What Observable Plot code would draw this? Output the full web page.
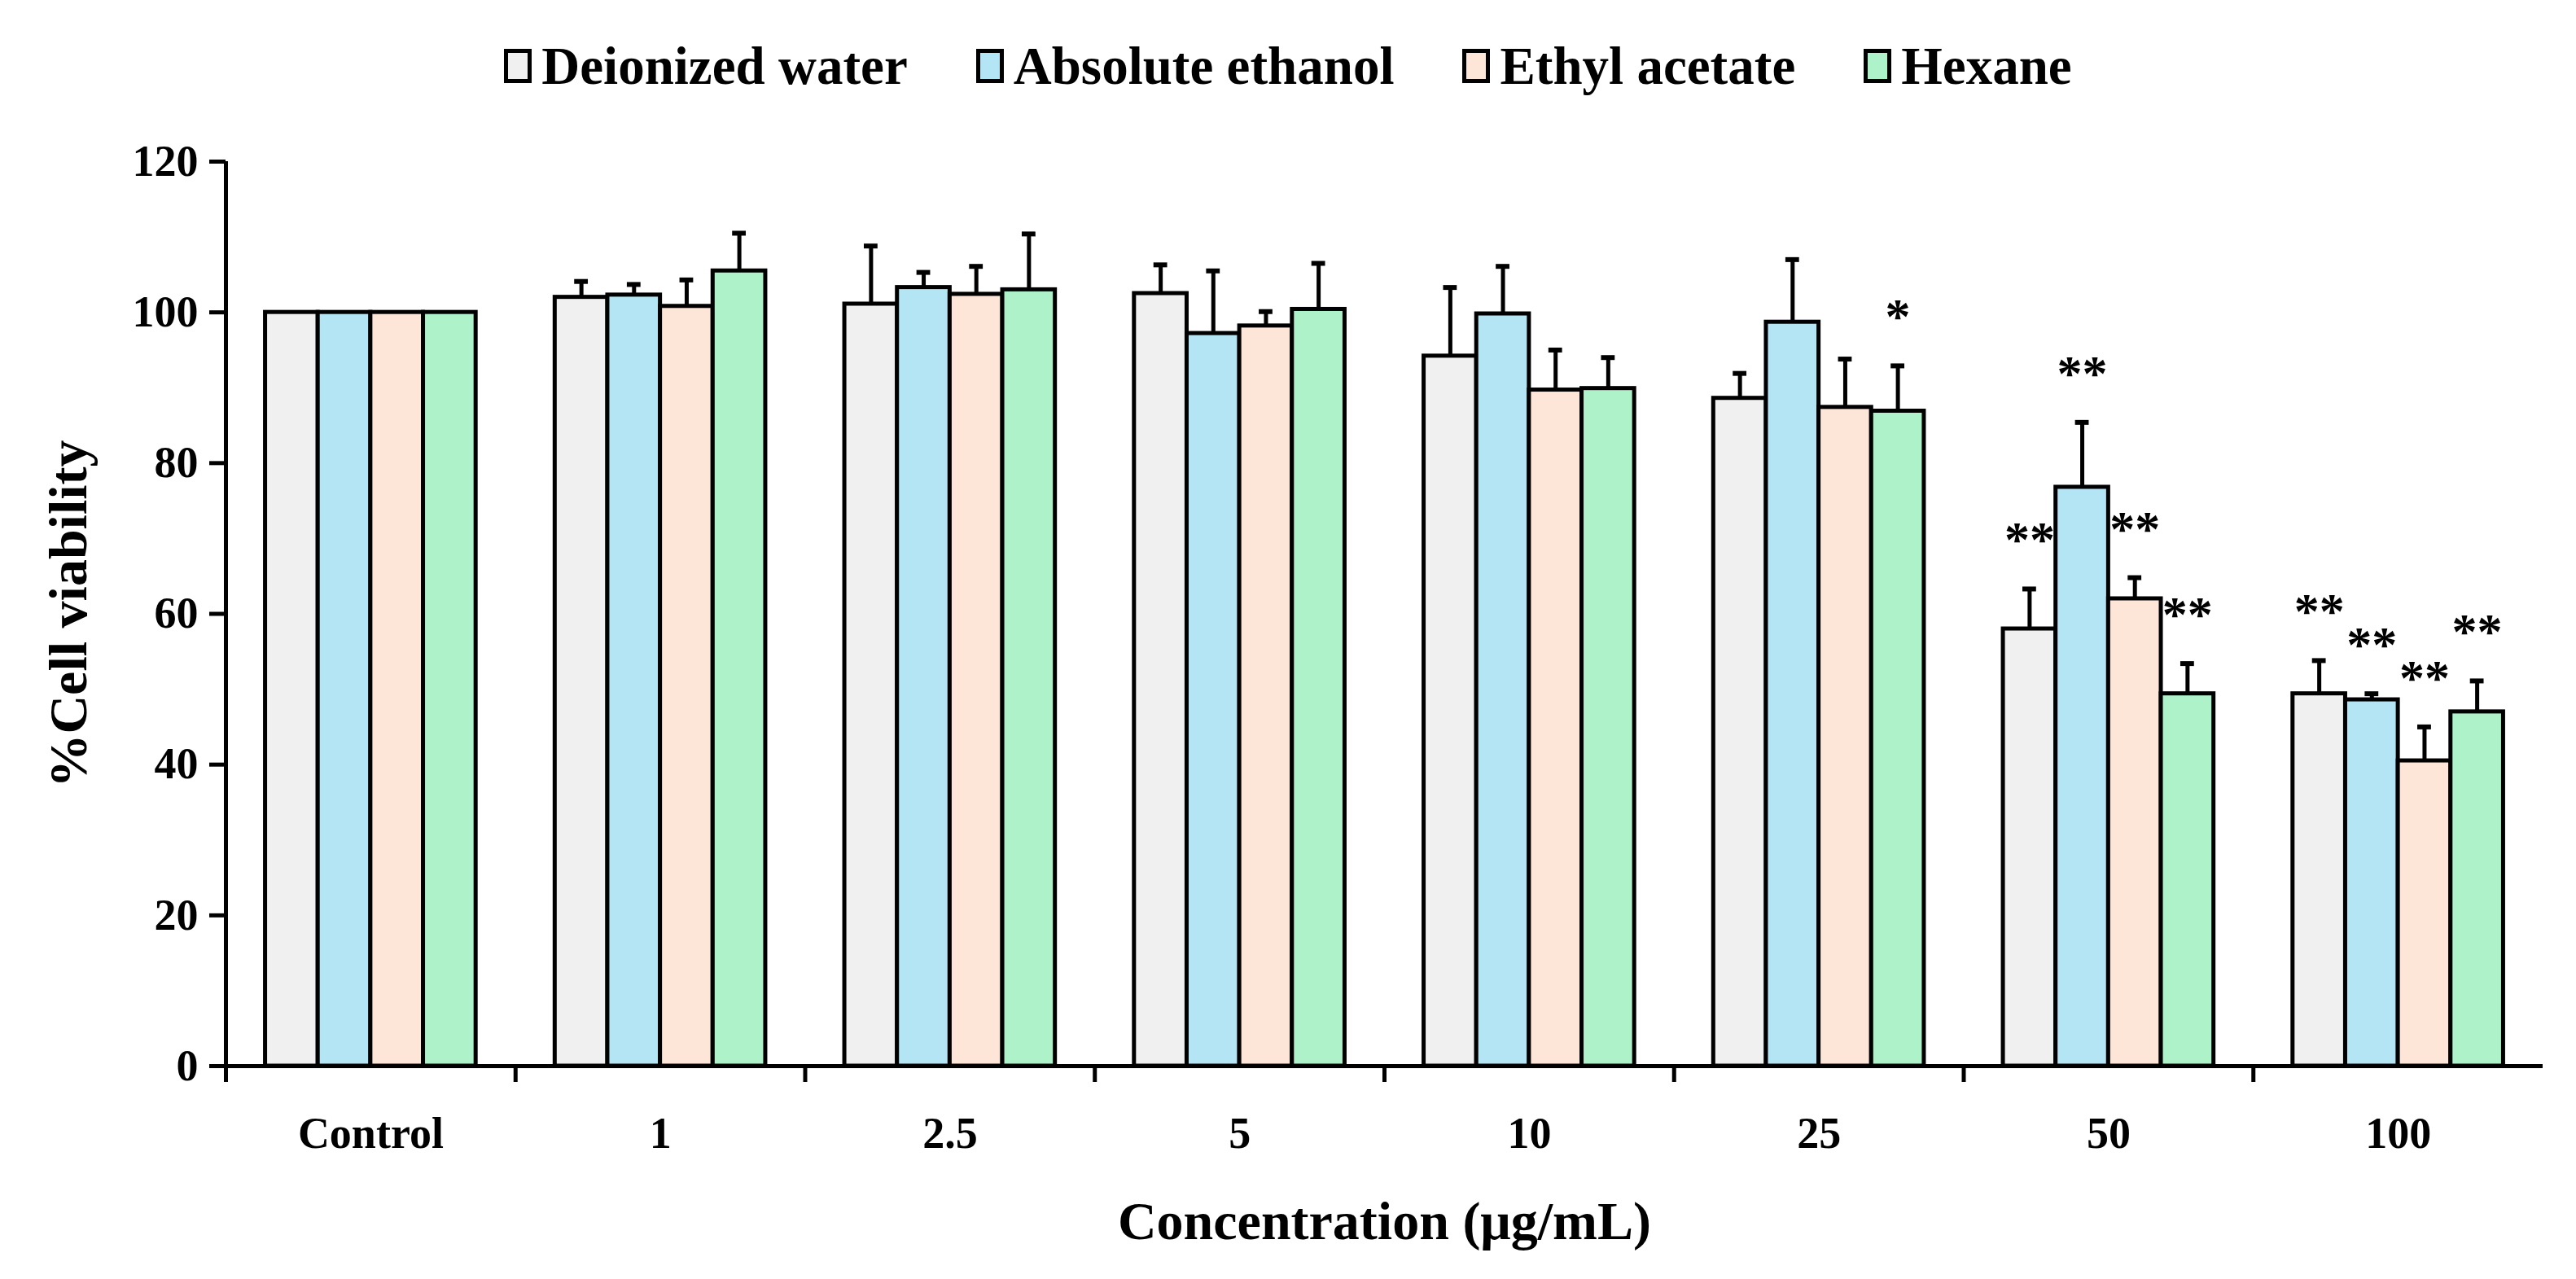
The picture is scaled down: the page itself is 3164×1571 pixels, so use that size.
<!DOCTYPE html>
<html>
<head>
<meta charset="utf-8">
<script src="https://cdn.jsdelivr.net/npm/d3@7"></script>
<script src="https://cdn.jsdelivr.net/npm/@observablehq/plot@0.6"></script>
<style>
  html, body { margin: 0; padding: 0; background: #fff; }
  body { width: 3164px; height: 1571px; overflow: hidden; font-family: "Liberation Serif", serif; font-weight: bold; color: #000; }
  #legend { height: 102px; padding-top: 30px; display: flex; justify-content: center; align-items: center; gap: 84px; font-size: 65px; line-height: 1; }
  .item { display: flex; align-items: center; gap: 12px; }
  .sw { width: 34px; height: 42px; border: 5px solid #000; box-sizing: border-box; }
  #chart svg { display: block; }
</style>
</head>
<body>
<div id="legend"></div>
<div id="chart"></div>
<script>
// ---- data ----
const concentrations = ["Control", "1", "2.5", "5", "10", "25", "50", "100"];
const solvents = ["Deionized water", "Absolute ethanol", "Ethyl acetate", "Hexane"];
const solventColors = ["#f0f0f0", "#b3e5f4", "#fde5d8", "#adf2c8"];

const deionizedWater   = [100, 102.0, 101.1, 102.5, 94.2, 88.6, 58.0, 49.4];
const absoluteEthanol  = [100, 102.3, 103.3, 97.2, 99.8, 98.7, 76.8, 48.6];
const ethylAcetate     = [100, 100.8, 102.4, 98.2, 89.7, 87.4, 62.0, 40.5];
const hexane           = [100, 105.5, 103.0, 100.4, 89.9, 86.9, 49.4, 47.0];

const deionizedWaterErr  = [0, 2.1, 7.7, 3.8, 9.1, 3.3, 5.3, 4.4];
const absoluteEthanolErr = [0, 1.4, 2.0, 8.3, 6.3, 8.3, 8.6, 0.8];
const ethylAcetateErr    = [0, 3.5, 3.7, 1.9, 5.3, 6.4, 2.8, 4.5];
const hexaneErr          = [0, 5.0, 7.4, 6.1, 4.1, 6.0, 4.0, 4.1];

const deionizedWaterSig  = ["", "", "", "", "", "", "**", "**"];
const absoluteEthanolSig = ["", "", "", "", "", "", "**", "**"];
const ethylAcetateSig    = ["", "", "", "", "", "", "**", "**"];
const hexaneSig          = ["", "", "", "", "", "*", "**", "**"];

const yTicks = [0, 20, 40, 60, 80, 100, 120];

// ---- table ----
const values = [deionizedWater, absoluteEthanol, ethylAcetate, hexane];
const errors = [deionizedWaterErr, absoluteEthanolErr, ethylAcetateErr, hexaneErr];
const sigs = [deionizedWaterSig, absoluteEthanolSig, ethylAcetateSig, hexaneSig];
const rows = [];
concentrations.forEach((c, i) => solvents.forEach((s, j) => {
  rows.push({conc: c, solvent: s, i, j, value: values[j][i], err: errors[j][i], sig: sigs[j][i]});
}));

// ---- legend ----
const legend = document.getElementById("legend");
solvents.forEach((s, j) => {
  const it = document.createElement("div");
  it.className = "item";
  const sw = document.createElement("div");
  sw.className = "sw";
  sw.style.background = solventColors[j];
  const t = document.createElement("span");
  t.textContent = s;
  it.append(sw, t);
  legend.append(it);
});

// ---- group geometry (fraction of each concentration band used by bars) ----
const groupFrac = 0.727;
const bw = groupFrac / solvents.length;
const bx1 = d => d.i + (1 - groupFrac) / 2 + d.j * bw;
const bx2 = d => bx1(d) + bw;
const bxc = d => bx1(d) + bw / 2;
const cap = bw * 0.13;
const withErr = rows.filter(d => d.err > 0);
const withSig = rows.filter(d => d.sig);

const chart = Plot.plot({
  width: 3164,
  height: 1441,
  marginLeft: 277,
  marginRight: 41,
  marginTop: 66,
  marginBottom: 264,
  style: {fontFamily: "'Liberation Serif', serif", fontWeight: "bold", fontSize: "54px", color: "#000", background: "#fff", overflow: "visible"},
  x: {domain: [0, concentrations.length]},
  y: {domain: [0, 120]},
  color: {domain: solvents, range: solventColors},
  marks: [
    Plot.rectY(rows, {x1: bx1, x2: bx2, y1: 0, y2: "value", fill: "solvent", stroke: "#000", strokeWidth: 5}),
    Plot.ruleX(withErr, {x: bxc, y1: "value", y2: d => d.value + d.err, stroke: "#000", strokeWidth: 5}),
    Plot.ruleY(withErr, {y: d => d.value + d.err, x1: d => bxc(d) - cap, x2: d => bxc(d) + cap, stroke: "#000", strokeWidth: 6}),
    Plot.text(withSig, {x: bxc, y: d => d.value + d.err, text: "sig", lineAnchor: "bottom", dy: -40, fontSize: 62, fontWeight: "bold"}),
    Plot.ruleX([0], {y1: 0, y2: 120, stroke: "#000", strokeWidth: 5}),
    Plot.ruleY([0], {stroke: "#000", strokeWidth: 5}),
    Plot.axisY({ticks: yTicks, tickSize: 20, tickPadding: 14, strokeWidth: 5, tickFormat: d => String(d), label: null}),
    Plot.axisY({ticks: [], label: "%Cell viability", labelAnchor: "center", labelOffset: 218, labelArrow: "none", fontSize: 66}),
    Plot.axisX(d3.range(concentrations.length), {tickSize: 20, strokeWidth: 5, tickFormat: () => "", label: null}),
    Plot.axisX(d3.range(concentrations.length).map(i => i + 0.5), {tickSize: 0, tickPadding: 62,
      tickFormat: d => concentrations[Math.floor(d)], label: null}),
    Plot.axisX({ticks: [], label: "Concentration (μg/mL)", labelAnchor: "center", labelOffset: 212, labelArrow: "none", fontSize: 66})
  ]
});
document.getElementById("chart").append(chart);
</script>
</body>
</html>
